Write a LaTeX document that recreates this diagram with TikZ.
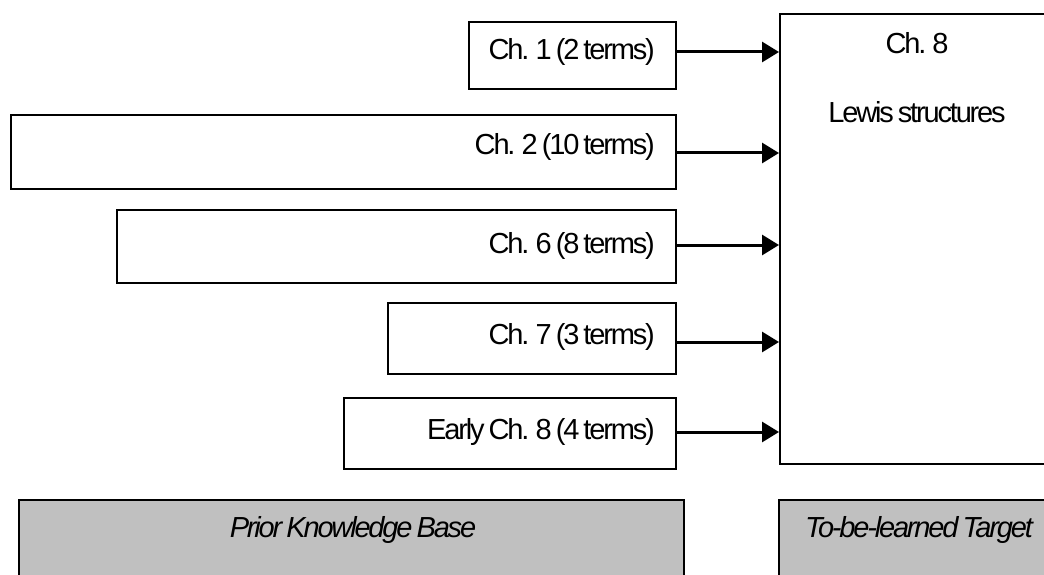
\documentclass[tikz,border=0pt]{standalone}
\usepackage{fontspec}
\setmainfont{Liberation Sans}[LetterSpace=-7.5, WordSpace=0.7]
\usetikzlibrary{arrows.meta}
\definecolor{gfill}{HTML}{C0C0C0}
\begin{document}
\begin{tikzpicture}[x=1pt,y=-1pt,
  box/.style={draw=black, line width=2pt, fill=white, inner sep=0pt, anchor=north west},
  gbox/.style={box, fill=gfill},
  lbl/.style={font=\fontsize{29}{32}\selectfont, inner sep=0pt},
  ilbl/.style={lbl, font=\fontsize{29}{32}\selectfont\itshape},
  arr/.style={line width=3pt, -{Triangle[length=17pt,width=20pt]}}]
\useasboundingbox (0,0) rectangle (1044,575);
\clip (0,0) rectangle (1044,575);
% prior boxes
\node[box, minimum width=207pt, minimum height=67pt] (b1) at (468,21) {};
\node[box, minimum width=665pt, minimum height=74pt] (b2) at (10,114) {};
\node[box, minimum width=559pt, minimum height=73pt] (b3) at (116,209) {};
\node[box, minimum width=288pt, minimum height=71pt] (b4) at (387,302) {};
\node[box, minimum width=332pt, minimum height=71pt] (b5) at (343,397) {};
\node[lbl, anchor=east] (t1) at (655,52) {Ch. 1 (2 terms)};
\node[lbl, anchor=east] (t2) at (655,147) {Ch. 2 (10 terms)};
\node[lbl, anchor=east] (t3) at (655,246) {Ch. 6 (8 terms)};
\node[lbl, anchor=east] (t4) at (655,337) {Ch. 7 (3 terms)};
\node[lbl, anchor=east] (t5) at (655,432) {Early Ch. 8 (4 terms)};
% target box
\node[box, minimum width=276pt, minimum height=450pt] (big) at (779,13) {};
\node[lbl] (c8) at (917,43) {Ch. 8};
\node[lbl] (lewis) at (917,112) {Lewis structures};
% arrows
\draw[arr] (b1.east |- 0,52) -- (big.west |- 0,52);
\draw[arr] (b2.east |- 0,153) -- (big.west |- 0,153);
\draw[arr] (b3.east |- 0,245) -- (big.west |- 0,245);
\draw[arr] (b4.east |- 0,342) -- (big.west |- 0,342);
\draw[arr] (b5.east |- 0,432) -- (big.west |- 0,432);
% bottom gray boxes
\node[gbox, minimum width=665pt, minimum height=100pt] (prior) at (18,499) {};
\node[gbox, minimum width=282pt, minimum height=100pt] (target) at (778,499) {};
\node[ilbl] (priorlbl) at (353,530) {Prior Knowledge Base};
\node[ilbl] (targetlbl) at (919,530) {To-be-learned Target};
\end{tikzpicture}
\end{document}
